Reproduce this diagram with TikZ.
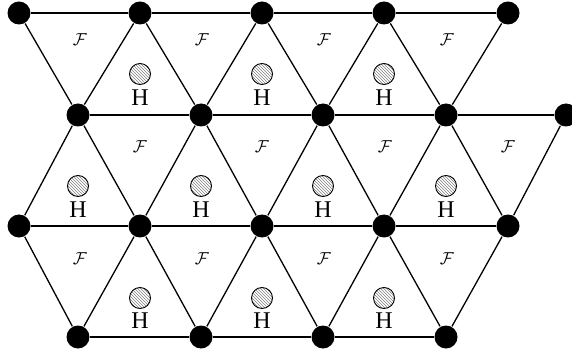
\documentclass[tikz,border=0pt]{standalone}
\usepackage{fontspec}
\setmainfont{Liberation Serif}
\usetikzlibrary{patterns}
\begin{document}
\begin{tikzpicture}[x=1pt, y=-1pt, line width=1.3pt,
  every node/.style={inner sep=0pt},
  site/.style={circle, fill=black, minimum size=23pt},
  hole/.style={circle, draw, line width=0.9pt, pattern=north west lines, pattern color=gray, minimum size=21pt},
  hlabel/.style={font=\fontsize{24}{28}\selectfont},
  flabel/.style={font=\fontsize{18}{22}\selectfont}]
  \useasboundingbox (0,0) rectangle (572,355);
  % lattice sites
  \node[site] (a1) at (19,13) {};
  \node[site] (a2) at (140,13) {};
  \node[site] (a3) at (262,13) {};
  \node[site] (a4) at (384,13) {};
  \node[site] (a5) at (508,13) {};
  \node[site] (b1) at (78,115) {};
  \node[site] (b2) at (201,115) {};
  \node[site] (b3) at (323,115) {};
  \node[site] (b4) at (446,115) {};
  \node[site] (b5) at (566,115) {};
  \node[site] (c1) at (19,226) {};
  \node[site] (c2) at (140,226) {};
  \node[site] (c3) at (262,226) {};
  \node[site] (c4) at (384,226) {};
  \node[site] (c5) at (508,226) {};
  \node[site] (d1) at (78,337) {};
  \node[site] (d2) at (201,337) {};
  \node[site] (d3) at (323,337) {};
  \node[site] (d4) at (446,337) {};
  % bonds
  \draw (a1) -- (a2) -- (a3) -- (a4) -- (a5);
  \draw (b1) -- (b2) -- (b3) -- (b4) -- (b5);
  \draw (c1) -- (c2) -- (c3) -- (c4) -- (c5);
  \draw (d1) -- (d2) -- (d3) -- (d4);
  \draw (a1) -- (b1) -- (a2) -- (b2) -- (a3) -- (b3) -- (a4) -- (b4) -- (a5);
  \draw (c1) -- (b1) -- (c2) -- (b2) -- (c3) -- (b3) -- (c4) -- (b4) -- (c5) -- (b5);
  \draw (c1) -- (d1) -- (c2) -- (d2) -- (c3) -- (d3) -- (c4) -- (d4) -- (c5);
  % F in the down triangles
  \node[flabel] (f1) at (80,40) {$\mathcal{F}$};
  \node[flabel] (f2) at (202,40) {$\mathcal{F}$};
  \node[flabel] (f3) at (324,40) {$\mathcal{F}$};
  \node[flabel] (f4) at (447,40) {$\mathcal{F}$};
  \node[flabel] (f5) at (140,147) {$\mathcal{F}$};
  \node[flabel] (f6) at (262,147) {$\mathcal{F}$};
  \node[flabel] (f7) at (385,147) {$\mathcal{F}$};
  \node[flabel] (f8) at (508,147) {$\mathcal{F}$};
  \node[flabel] (f9) at (80,259) {$\mathcal{F}$};
  \node[flabel] (f10) at (202,259) {$\mathcal{F}$};
  \node[flabel] (f11) at (324,259) {$\mathcal{F}$};
  \node[flabel] (f12) at (447,259) {$\mathcal{F}$};
  % H in the up triangles
  \node[hole] (o1) at (140,74) {};
  \node[hole] (o2) at (262,74) {};
  \node[hole] (o3) at (384,74) {};
  \node[hole] (o4) at (78,186) {};
  \node[hole] (o5) at (201,186) {};
  \node[hole] (o6) at (323,186) {};
  \node[hole] (o7) at (446,186) {};
  \node[hole] (o8) at (140,298) {};
  \node[hole] (o9) at (262,298) {};
  \node[hole] (o10) at (384,298) {};
  \node[hlabel] (h1) at (140,98) {H};
  \node[hlabel] (h2) at (262,98) {H};
  \node[hlabel] (h3) at (384,98) {H};
  \node[hlabel] (h4) at (78,210) {H};
  \node[hlabel] (h5) at (201,210) {H};
  \node[hlabel] (h6) at (323,210) {H};
  \node[hlabel] (h7) at (446,210) {H};
  \node[hlabel] (h8) at (140,321) {H};
  \node[hlabel] (h9) at (262,321) {H};
  \node[hlabel] (h10) at (384,321) {H};
\end{tikzpicture}
\end{document}
